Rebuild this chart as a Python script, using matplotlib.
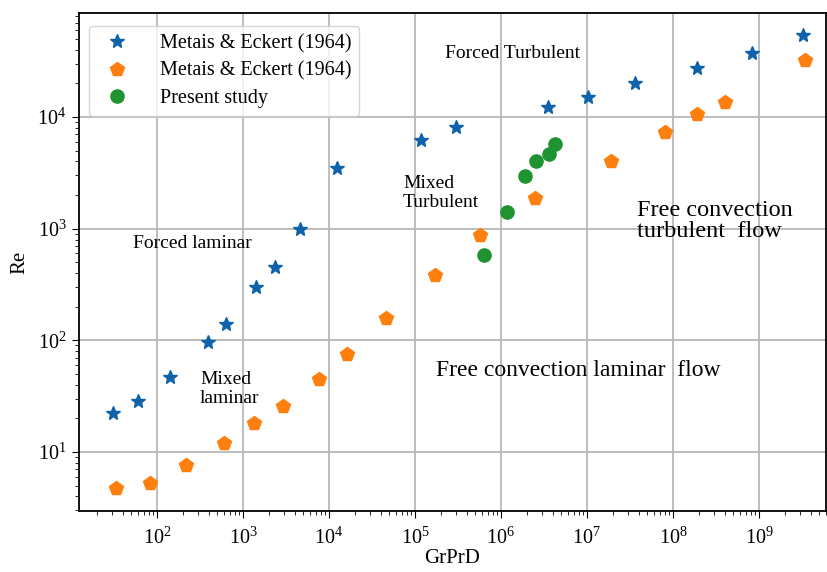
import matplotlib
matplotlib.use("Agg")
import matplotlib.pyplot as plt
from matplotlib.ticker import NullFormatter, FixedLocator, LogFormatterSciNotation

plt.rcParams['font.family'] = ['Liberation Serif', 'DejaVu Serif']
plt.rcParams['mathtext.fontset'] = 'stix'

# Metais & Eckert (1964) - upper boundary (stars)
star_x = [30.8, 59.7, 142, 388, 634, 1416, 2337, 4560, 12400, 1.18e5, 3.0e5,
          3.52e6, 1.03e7, 3.65e7, 1.9e8, 8.3e8, 3.25e9]
star_y = [22.4, 28.7, 47.2, 97, 139, 298, 451, 1000, 3515, 6225, 8190,
          12370, 15000, 20300, 27500, 37700, 53800]

# Metais & Eckert (1964) - lower boundary (pentagons)
pent_x = [33, 82, 219, 607, 1343, 2920, 7660, 16070, 45600, 1.72e5, 5.65e5,
          2.5e6, 1.9e7, 8.07e7, 1.9e8, 3.99e8, 3.4e9]
pent_y = [4.79, 5.31, 7.6, 11.96, 18.1, 25.8, 45.3, 75.3, 157, 387, 879,
          1885, 4060, 7380, 10560, 13530, 32400]

# Present study
pres_x = [6.34e5, 1.18e6, 1.89e6, 2.55e6, 3.65e6, 4.2e6]
pres_y = [585, 1400, 2940, 4065, 4690, 5770]

labels = ['Metais & Eckert (1964)', 'Metais & Eckert (1964)', 'Present study']
x_major = [1e2, 1e3, 1e4, 1e5, 1e6, 1e7, 1e8, 1e9]
y_major = [1e1, 1e2, 1e3, 1e4]

fig = plt.figure(figsize=(8.28, 5.72), dpi=100)
ax = fig.add_axes([0.0954, 0.1066, 0.9022, 0.8704])

ax.plot(star_x, star_y, linestyle='none', marker='*', markersize=10,
        color='#0d62aa', label=labels[0])
ax.plot(pent_x, pent_y, linestyle='none', marker='p', markersize=10,
        color='#ff7f0e', label=labels[1])
ax.plot(pres_x, pres_y, linestyle='none', marker='o', markersize=9.5,
        color='#1e9330', label=labels[2])

ax.set_xscale('log')
ax.set_yscale('log')
ax.set_xlim(10**1.093, 10**9.78)
ax.set_ylim(10**0.472, 10**4.93)
ax.xaxis.set_major_locator(FixedLocator(x_major))
ax.yaxis.set_major_locator(FixedLocator(y_major))
ax.xaxis.set_major_formatter(LogFormatterSciNotation())
ax.yaxis.set_major_formatter(LogFormatterSciNotation())
ax.xaxis.set_minor_formatter(NullFormatter())
ax.yaxis.set_minor_formatter(NullFormatter())

ax.grid(True, which='major', color='#b8b8b8', linewidth=1.3)
ax.set_axisbelow(True)
ax.tick_params(axis='both', which='major', labelsize=14.5, length=5)
ax.tick_params(axis='x', which='major', pad=7)
ax.tick_params(axis='y', which='major', pad=4)
ax.tick_params(axis='both', which='minor', length=3)
for s in ax.spines.values():
    s.set_linewidth(1.3)

ax.set_xlabel('GrPrD', fontsize=15, labelpad=0)
ax.set_ylabel('Re', fontsize=15, labelpad=6)

ax.legend(loc='upper left', fontsize=14.5, frameon=True, framealpha=0.8,
          borderpad=0.4, handletextpad=1.1, labelspacing=0.42,
          bbox_to_anchor=(0.0, 0.995))

tfs = 14
ax.annotate('Forced Turbulent', xy=(445, 572-53), xycoords='figure pixels',
            fontsize=tfs, va='center', ha='left')
ax.annotate('Mixed\nTurbulent', xy=(403, 572-193), xycoords='figure pixels',
            fontsize=tfs, va='center', ha='left', linespacing=1.1)
ax.annotate('Free convection\nturbulent  flow', xy=(637, 572-221), xycoords='figure pixels',
            fontsize=17.5, va='center', ha='left', linespacing=1.0)
ax.annotate('Forced laminar', xy=(133, 572-244), xycoords='figure pixels',
            fontsize=tfs, va='center', ha='left')
ax.annotate('Mixed\nlaminar', xy=(200, 572-389), xycoords='figure pixels',
            fontsize=tfs, va='center', ha='left', linespacing=1.1)
ax.annotate('Free convection laminar  flow', xy=(436, 572-371), xycoords='figure pixels',
            fontsize=17, va='center', ha='left')

fig.savefig('out.png', dpi=100)
